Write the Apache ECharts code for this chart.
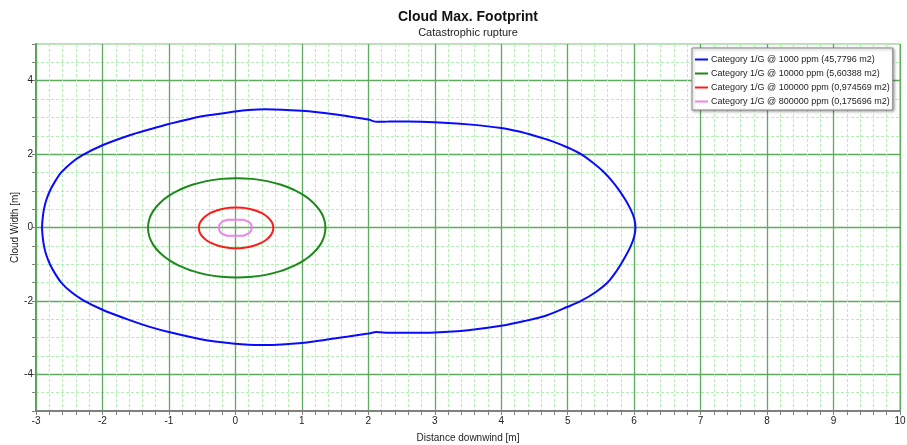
<!DOCTYPE html>
<html>
<head>
<meta charset="utf-8">
<script src="https://cdn.jsdelivr.net/npm/echarts@6/dist/echarts.min.js"></script>
<style>
  html, body { margin: 0; padding: 0; background: #ffffff; }
  #chart { width: 907px; height: 445px; }
</style>
</head>
<body>
<div id="chart"></div>
<script>
// Texts
const chartTitle = 'Cloud Max. Footprint';
const chartSubtitle = 'Catastrophic rupture';
const xAxisName = 'Distance downwind [m]';
const yAxisName = 'Cloud Width [m]';

// Series names (concentration level and footprint area)
const seriesNames = [
  'Category 1/G @ 1000 ppm (45,7796 m2)',
  'Category 1/G @ 10000 ppm (5,60388 m2)',
  'Category 1/G @ 100000 ppm (0,974569 m2)',
  'Category 1/G @ 800000 ppm (0,175696 m2)'
];

// Axis ranges and labelled ticks
const xRange = [-3, 10];
const yRange = [-5, 5];
const yLabelTicks = [-4, -2, 0, 2, 4];

// 1000 ppm footprint: upper edge (left to right), lower edge (right to left) [x, width]
const footprint1000Upper = [
  [-2.91, 0], [-2.90, 0.25], [-2.88, 0.5], [-2.845, 0.75], [-2.79, 1.0], [-2.715, 1.25],
  [-2.62, 1.5], [-2.47, 1.76], [-2.3, 1.97], [-2.0, 2.24], [-1.58, 2.52], [-1.3, 2.67],
  [-1.0, 2.82], [-0.5, 3.03], [0.0, 3.16], [0.2, 3.2], [0.45, 3.22], [0.7, 3.21],
  [1.0, 3.18], [1.2, 3.15], [1.43, 3.1], [1.7, 3.03], [2.0, 2.94], [2.13, 2.88],
  [2.3, 2.885], [2.6, 2.89], [3.0, 2.87], [3.5, 2.81], [4.0, 2.71], [4.25, 2.62],
  [4.5, 2.5], [4.75, 2.36], [5.0, 2.18], [5.2, 2.0], [5.39, 1.75], [5.55, 1.5],
  [5.675, 1.25], [5.78, 1.0], [5.87, 0.75], [5.945, 0.5], [6.0, 0.25], [6.02, 0]
];
const footprint1000Lower = [
  [6.0, -0.25], [5.95, -0.5], [5.88, -0.75], [5.8, -1.0], [5.71, -1.25], [5.6, -1.5],
  [5.43, -1.75], [5.2, -2.0], [5.0, -2.16], [4.69, -2.39], [4.35, -2.55], [4.0, -2.68],
  [3.5, -2.8], [3.0, -2.86], [2.6, -2.87], [2.3, -2.865], [2.12, -2.85], [2.0, -2.89],
  [1.7, -2.97], [1.43, -3.04], [1.2, -3.1], [1.0, -3.145], [0.7, -3.185], [0.43, -3.2],
  [0.2, -3.195], [0.0, -3.17], [-0.5, -3.05], [-1.0, -2.85], [-1.3, -2.7], [-1.58, -2.53],
  [-2.0, -2.24], [-2.3, -1.97], [-2.47, -1.76], [-2.62, -1.5], [-2.715, -1.25], [-2.79, -1.0],
  [-2.845, -0.75], [-2.88, -0.5], [-2.9, -0.25], [-2.91, 0]
];

// 10000 ppm footprint outline
const footprint10000 = [
  [1.355, -0.01], [1.335, 0.226], [1.275, 0.453], [1.176, 0.668], [1.043, 0.861], [0.878, 1.028],
  [0.688, 1.163], [0.477, 1.264], [0.252, 1.325], [0.02, 1.345], [-0.212, 1.325], [-0.437, 1.264],
  [-0.648, 1.163], [-0.838, 1.028], [-1.003, 0.861], [-1.136, 0.668], [-1.235, 0.453], [-1.295, 0.226],
  [-1.315, -0.01], [-1.295, -0.246], [-1.235, -0.473], [-1.136, -0.688], [-1.003, -0.881], [-0.838, -1.048],
  [-0.648, -1.183], [-0.437, -1.284], [-0.212, -1.345], [0.02, -1.365], [0.252, -1.345], [0.477, -1.284],
  [0.688, -1.183], [0.878, -1.048], [1.043, -0.881], [1.176, -0.688], [1.275, -0.473], [1.335, -0.246],
  [1.355, -0.01]
];

// 100000 ppm footprint outline
const footprint100000 = [
  [0.57, -0.01], [0.562, 0.086], [0.536, 0.18], [0.495, 0.268], [0.439, 0.347], [0.37, 0.415],
  [0.29, 0.471], [0.202, 0.512], [0.107, 0.537], [0.01, 0.545], [-0.087, 0.537], [-0.182, 0.512],
  [-0.27, 0.471], [-0.35, 0.415], [-0.419, 0.347], [-0.475, 0.268], [-0.516, 0.18], [-0.542, 0.086],
  [-0.55, -0.01], [-0.542, -0.106], [-0.516, -0.2], [-0.475, -0.288], [-0.419, -0.367], [-0.35, -0.435],
  [-0.27, -0.491], [-0.182, -0.532], [-0.087, -0.557], [0.01, -0.565], [0.107, -0.557], [0.202, -0.532],
  [0.29, -0.491], [0.37, -0.435], [0.439, -0.367], [0.495, -0.288], [0.536, -0.2], [0.562, -0.106],
  [0.57, -0.01]
];

// 800000 ppm footprint outline
const footprint800000 = [
  [0.25, 0], [0.235, 0.09], [0.2, 0.155], [0.13, 0.21], [-0.12, 0.21], [-0.2, 0.16],
  [-0.24, 0.08], [-0.25, 0], [-0.24, -0.09], [-0.21, -0.16], [-0.13, -0.225], [0.12, -0.225],
  [0.2, -0.16], [0.235, -0.09], [0.25, 0]
];

const seriesColors = ['#0a0aff', '#1b8a1b', '#ff1a1a', '#ee82ee'];
const majorGrid = '#5eaa5e';
const minorGrid = '#b4efb4';
const axisGray = '#808080';
const fontFamily = "'Liberation Sans', Arial, sans-serif";

const chart = echarts.init(document.getElementById('chart'), null, { renderer: 'canvas' });

const outlines = [
  footprint1000Upper.concat(footprint1000Lower),
  footprint10000,
  footprint100000,
  footprint800000
];
const smoothFlags = [0.3, true, true, false];

const series = outlines.map((pts, i) => ({
  name: seriesNames[i],
  type: 'line',
  data: pts,
  symbol: 'none',
  smooth: smoothFlags[i],
  clip: true,
  z: 5,
  lineStyle: { color: seriesColors[i], width: 2 },
  itemStyle: { color: seriesColors[i] }
}));

chart.setOption({
  animation: false,
  backgroundColor: '#ffffff',
  title: {
    text: chartTitle,
    subtext: chartSubtitle,
    left: 468,
    top: 10,
    padding: 0,
    itemGap: 3,
    textAlign: 'center',
    textStyle: { fontFamily, fontSize: 14, fontWeight: 'bold', color: '#111' },
    subtextStyle: { fontFamily, fontSize: 11, color: '#222' }
  },
  legend: {
    orient: 'vertical',
    left: 692,
    top: 48,
    padding: [7, 3, 4, 3],
    itemGap: 5,
    itemWidth: 13,
    itemHeight: 2,
    icon: 'rect',
    backgroundColor: '#ffffff',
    borderColor: '#8a8a8a',
    borderWidth: 1,
    shadowColor: 'rgba(0,0,0,0.35)',
    shadowBlur: 3,
    shadowOffsetX: 1,
    shadowOffsetY: 1,
    textStyle: { fontFamily, fontSize: 9, color: '#222', padding: [0, 0, 0, -2] },
    data: seriesNames
  },
  grid: {
    left: 36, right: 7, top: 44, bottom: 34,
    containLabel: false,
    outerBoundsMode: 'none',
    show: true,
    borderColor: '#a0a0a0',
    borderWidth: 1,
    backgroundColor: 'transparent'
  },
  xAxis: {
    type: 'value',
    min: xRange[0], max: xRange[1], interval: 1,
    name: xAxisName,
    nameLocation: 'middle',
    nameGap: 22,
    nameMoveOverlap: false,
    nameTextStyle: { fontFamily, fontSize: 10, color: '#222' },
    axisLine: { show: true, onZero: false, lineStyle: { color: axisGray, width: 2 } },
    axisTick: { show: true, length: 4, lineStyle: { color: axisGray } },
    minorTick: { show: true, splitNumber: 5, length: 4, lineStyle: { color: axisGray } },
    axisLabel: { fontFamily, fontSize: 10, color: '#222', margin: 5 },
    splitLine: { show: true, lineStyle: { color: majorGrid, width: 1.3 } },
    minorSplitLine: { show: true, lineStyle: { color: minorGrid, width: 1, type: [3, 2] } },
    z: 1
  },
  yAxis: [
    {
      type: 'value',
      min: yRange[0], max: yRange[1], interval: 0.5,
      name: yAxisName,
      nameLocation: 'middle',
      nameGap: 16,
      nameMoveOverlap: false,
      nameTextStyle: { fontFamily, fontSize: 10, color: '#222' },
      axisLine: { show: true, onZero: false, lineStyle: { color: axisGray, width: 2 } },
      axisTick: { show: true, length: 4, lineStyle: { color: axisGray } },
      axisLabel: {
        fontFamily, fontSize: 10, color: '#222', margin: 3,
        formatter: v => (yLabelTicks.indexOf(v) >= 0 ? String(v) : '')
      },
      splitLine: { show: true, lineStyle: { color: minorGrid, width: 1, type: [3, 2] } },
      z: 0
    },
    {
      type: 'value',
      min: yRange[0], max: yRange[1], interval: 1,
      position: 'left',
      axisLine: { show: false },
      axisTick: { show: false },
      axisLabel: { show: false },
      splitLine: { show: true, lineStyle: { color: ['rgba(0,0,0,0)', majorGrid], width: 1.3 } },
      z: 1
    }
  ],
  series
});
</script>
</body>
</html>
